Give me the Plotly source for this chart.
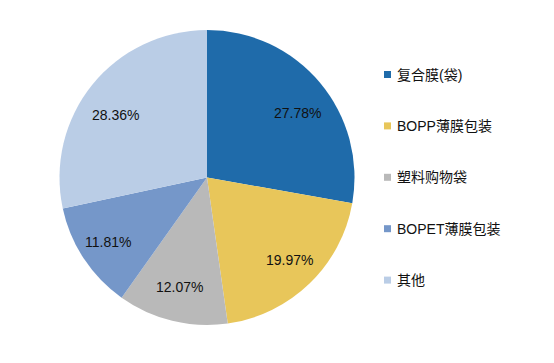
import math
import plotly.graph_objects as go

categories = ["复合膜(袋)", "BOPP薄膜包装", "塑料购物袋", "BOPET薄膜包装", "其他"]
values = [27.78, 19.97, 12.07, 11.81, 28.36]
colors = ["#1F6BAA", "#E8C65A", "#B9B9B9", "#7597C9", "#BACDE6"]

W, H = 554, 363
OFF = 8  # page body margin
cx, cy, r = 207 - OFF, 177.5 - OFF, 147.5

fig = go.Figure(go.Pie(
    labels=categories, values=values, sort=False, direction="clockwise", rotation=0,
    marker=dict(colors=colors, line=dict(width=0)),
    textinfo="none",
    domain=dict(x=[(cx - r) / W, (cx + r) / W], y=[(H - cy - r) / H, (H - cy + r) / H]),
    showlegend=False, hoverinfo="label+percent",
))

# value labels at slice mid-angles (Excel-like best-fit placement)
total = sum(values)
cum = 0.0
rx, ry, dy0 = 0.80 * r, 0.73 * r, 5
for v in values:
    mid = (cum + v / 2) / total * 2 * math.pi
    cum += v
    px = cx + rx * math.sin(mid)
    py = cy + dy0 - ry * math.cos(mid)
    fig.add_annotation(x=px / W, y=1 - py / H, xref="paper", yref="paper",
                       text=f"{v:.2f}%", showarrow=False, xanchor="center", yanchor="middle",
                       font=dict(family="Liberation Sans, Arial", size=14, color="#111111"))

# manual legend
leg_x0, leg_y0, leg_dy = 387.5 - OFF, 74.5 - OFF, 51.4
for i, (name, col) in enumerate(zip(categories, colors)):
    yc = leg_y0 + i * leg_dy
    fig.add_shape(type="rect", xref="paper", yref="paper",
                  x0=(leg_x0 - 3.5) / W, x1=(leg_x0 + 3.5) / W,
                  y0=1 - (yc + 3.5) / H, y1=1 - (yc - 3.5) / H,
                  fillcolor=col, line=dict(width=0))
    fig.add_annotation(x=(leg_x0 + 7) / W, y=1 - yc / H, xref="paper", yref="paper",
                       text=name, showarrow=False, xanchor="left", yanchor="middle",
                       font=dict(family="Liberation Sans, Noto Sans CJK SC", size=14, color="#111111"))

fig.update_layout(width=W, height=H, margin=dict(l=0, r=0, t=0, b=0),
                  paper_bgcolor="white", plot_bgcolor="white")
fig.write_html("out.html")
